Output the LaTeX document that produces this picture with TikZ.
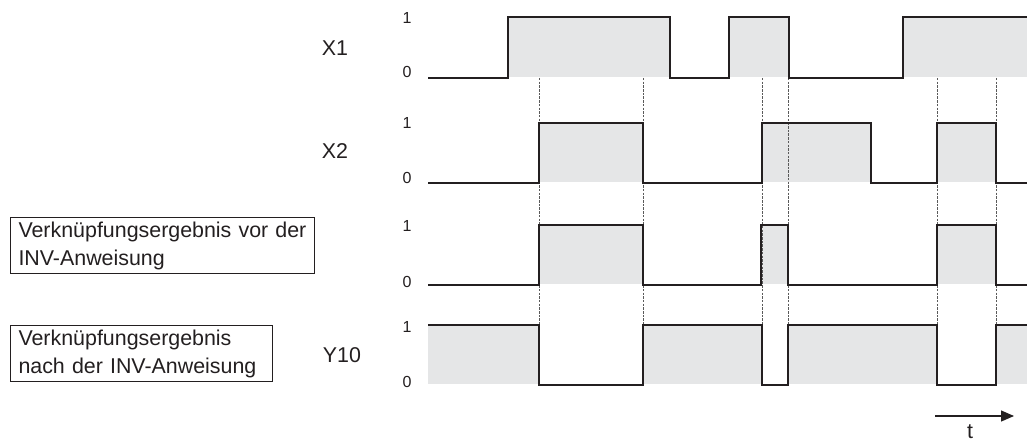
\documentclass[tikz,border=0pt]{standalone}
\usepackage{fontspec}
\setmainfont{Liberation Sans}
\usetikzlibrary{arrows.meta}
\definecolor{sig}{RGB}{229,230,231}
\definecolor{ln}{RGB}{35,31,32}
\definecolor{dsh}{RGB}{90,90,90}
\begin{document}
\begin{tikzpicture}[x=1pt,y=-1pt,
  wave/.style={line width=2pt, draw=ln, line join=miter},
  hi/.style={fill=sig, draw=none},
  guide/.style={draw=dsh, line width=0.7pt, dash pattern=on 2.5pt off 1.2pt},
  lbl/.style={font=\fontsize{21.4}{26}\selectfont, text=ln, inner sep=0pt},
  dig/.style={font=\fontsize{16}{18}\selectfont, text=ln, inner sep=0pt},
  infobox/.style={draw=ln, line width=1pt, inner xsep=8pt, inner ysep=0pt,
    minimum height=56pt, align=left, anchor=north west,
    font=\fontsize{21.4}{28}\selectfont, text=ln}]
\useasboundingbox (0,0) rectangle (1027,443);
% gray fills (high phases)
\foreach \a/\b in {508/670,729/789,903/1027} \fill[hi] (\a,17) rectangle (\b,77);
\foreach \a/\b in {539/643,762/871,937/996} \fill[hi] (\a,123) rectangle (\b,182);
\foreach \a/\b in {539/643,761/788,937/996} \fill[hi] (\a,225) rectangle (\b,284);
\foreach \a/\b in {428/539,643/762,788/937,996/1027} \fill[hi] (\a,325) rectangle (\b,384);
% dashed guide lines
\foreach \x in {539,643,762,788,937,996} \draw[guide] (\x,78) -- (\x,325);
% waveforms
\draw[wave] (428,78) -- (508,78) -- (508,17) -- (670,17) -- (670,78) -- (729,78) -- (729,17) -- (789,17) -- (789,78) -- (903,78) -- (903,17) -- (1027,17);
\draw[wave] (428,183) -- (539,183) -- (539,123) -- (643,123) -- (643,183) -- (762,183) -- (762,123) -- (871,123) -- (871,183) -- (937,183) -- (937,123) -- (996,123) -- (996,183) -- (1027,183);
\draw[wave] (428,285) -- (539,285) -- (539,225) -- (643,225) -- (643,285) -- (761,285) -- (761,225) -- (788,225) -- (788,285) -- (937,285) -- (937,225) -- (996,225) -- (996,285) -- (1027,285);
\draw[wave] (428,325) -- (539,325) -- (539,385) -- (643,385) -- (643,325) -- (762,325) -- (762,385) -- (788,385) -- (788,325) -- (937,325) -- (937,385) -- (996,385) -- (996,325) -- (1027,325);
% level digits
\node[dig] (r1h) at (407,18) {1};
\node[dig] (r1l) at (407,72) {0};
\node[dig] (r2h) at (407,123) {1};
\node[dig] (r2l) at (407,178) {0};
\node[dig] (r3h) at (407,226) {1};
\node[dig] (r3l) at (407,282) {0};
\node[dig] (r4h) at (407,327) {1};
\node[dig] (r4l) at (407,382) {0};
% signal names
\node[lbl] (x1) at (335,48) {X1};
\node[lbl] (x2) at (335,151) {X2};
\node[lbl] (y10) at (342,355) {Y10};
% boxes
\node[infobox, text width=288pt] (vor) at (10,217) {Verknüpfungsergebnis vor der\\INV-Anweisung};
\node[infobox, text width=246pt] (nach) at (10,325) {Verknüpfungsergebnis\\nach der INV-Anweisung};
% time arrow
\coordinate (ta) at (935,416);
\coordinate (tb) at (1014,416);
\draw[ln, line width=1.2pt, -{Triangle[length=13pt,width=11pt]}] (ta) -- (tb);
\node[lbl] (t) at (970,432) {t};
\end{tikzpicture}
\end{document}
